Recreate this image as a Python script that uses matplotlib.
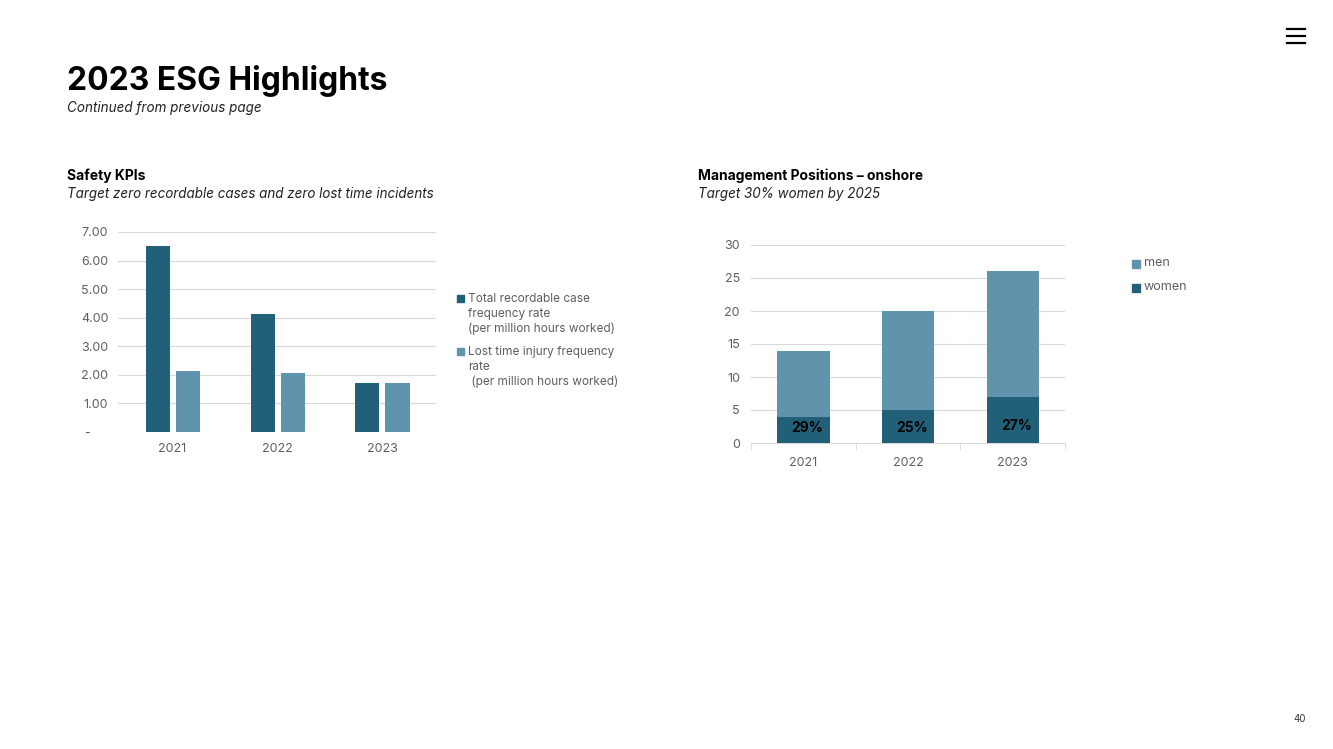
import matplotlib.pyplot as plt
from matplotlib.lines import Line2D
from matplotlib.patches import Rectangle

plt.rcParams['font.family'] = ['Inter', 'DejaVu Sans']

# ---- data ----
years = ['2021', '2022', '2023']
trcf = [6.52, 4.12, 1.73]          # Total recordable case frequency rate
ltif = [2.15, 2.05, 1.73]          # Lost time injury frequency rate
safety_ticks = [0, 1, 2, 3, 4, 5, 6, 7]
safety_tick_labels = ['-', '1.00', '2.00', '3.00', '4.00', '5.00', '6.00', '7.00']

women = [4, 5, 7]
men = [10, 15, 19]
mgmt_ticks = [0, 5, 10, 15, 20, 25, 30]

DARK = '#22607a'
LIGHT = '#6094ad'
GRID = '#d9d9d9'
TICK = '#5f5f5f'

W, H = 1333, 749
fig = plt.figure(figsize=(W / 100, H / 100), dpi=100)


def fx(px):
    return px / W


def fy(py):
    return 1 - py / H


# header
fig.text(fx(67), fy(90), '2023 ESG Highlights', fontsize=22.9, fontweight='bold', color='black')
fig.text(fx(67), fy(112), 'Continued from previous page', fontsize=9.7, style='italic', color='#222222')

fig.text(fx(67), fy(180), 'Safety KPIs', fontsize=10, fontweight='bold', color='black')
fig.text(fx(67), fy(198), 'Target zero recordable cases and zero lost time incidents', fontsize=9.65,
         style='italic', color='#222222')
fig.text(fx(698), fy(180), 'Management Positions \u2013 onshore', fontsize=10, fontweight='bold', color='black')
fig.text(fx(698), fy(198), 'Target 30% women by 2025', fontsize=9.65, style='italic', color='#222222')

# hamburger icon
for yy in (29, 36, 43):
    fig.add_artist(Line2D([fx(1287), fx(1305)], [fy(yy), fy(yy)], color='black', lw=1.6,
                          transform=fig.transFigure))
fig.text(fx(1306), fy(722), '40', fontsize=7, ha='right', color='#333333')

# ---- Safety KPIs chart ----
ax1 = fig.add_axes([fx(118), fy(432), fx(436 - 118), (432 - 232) / H])
x = list(range(len(years)))
off = 0.143
bw = 0.229
ax1.bar([i - off for i in x], trcf, width=bw, color=DARK, zorder=3)
ax1.bar([i + off for i in x], ltif, width=bw, color=LIGHT, zorder=3)
ax1.set_xlim(-0.52, 2.51)
ax1.set_ylim(0, 7)
ax1.set_yticks(safety_ticks)
ax1.set_yticklabels([l if l != '-' else '-     ' for l in safety_tick_labels])
ax1.set_xticks(x)
ax1.set_xticklabels(years)
ax1.grid(axis='y', color=GRID, lw=0.8, zorder=0)
ax1.set_axisbelow(True)
for s in ax1.spines.values():
    s.set_visible(False)
ax1.tick_params(axis='both', length=0, labelsize=9, labelcolor=TICK)
ax1.tick_params(axis='y', pad=7)
ax1.tick_params(axis='x', pad=8)

# legend 1
leg1 = [(299, DARK, ['Total recordable case', 'frequency rate', '(per million hours worked)']),
        (352, LIGHT, ['Lost time injury frequency', 'rate', ' (per million hours worked)'])]
for y0, c, lines in leg1:
    fig.add_artist(Rectangle((fx(457), fy(y0 + 3.5)), fx(7), 7 / H, color=c, transform=fig.transFigure))
    for k, t in enumerate(lines):
        fig.text(fx(468), fy(y0 + k * 15), t, fontsize=8.5, color=TICK, va='center')

# ---- Management chart ----
ax2 = fig.add_axes([fx(751), fy(443), fx(1065 - 751), (443 - 245) / H])
ax2.bar(x, women, width=0.5, color=DARK, zorder=3)
ax2.bar(x, men, bottom=women, width=0.5, color=LIGHT, zorder=3)
ax2.set_xlim(-0.5, 2.5)
ax2.set_ylim(0, 30)
ax2.set_yticks(mgmt_ticks)
ax2.set_xticks(x)
ax2.set_xticklabels(years)
ax2.set_xticks([-0.5, 0.5, 1.5, 2.5], minor=True)
ax2.grid(axis='y', color=GRID, lw=0.8, zorder=0)
ax2.set_axisbelow(True)
for k, s in ax2.spines.items():
    s.set_visible(k == 'bottom')
ax2.spines['bottom'].set_color(GRID)
ax2.tick_params(axis='both', which='major', length=0, labelsize=9, labelcolor=TICK)
ax2.tick_params(axis='x', which='minor', length=5, color=GRID, direction='out')
ax2.tick_params(axis='y', pad=8)
ax2.tick_params(axis='x', which='major', pad=10)
label_y = [2.3, 2.3, 2.6]
for i, (w, m) in enumerate(zip(women, men)):
    pct = round(100 * w / (w + m))
    ax2.text(i + 0.04, label_y[i], f'{pct}%', ha='center', va='center', fontsize=10,
             fontweight='bold', color='black', zorder=5)

# legend 2
for y0, c, t in [(264, LIGHT, 'men'), (288, DARK, 'women')]:
    fig.add_artist(Rectangle((fx(1132), fy(y0 + 4)), fx(8), 8 / H, color=c, transform=fig.transFigure))
    fig.text(fx(1144), fy(y0 - 1), t, fontsize=9, color=TICK, va='center')

fig.savefig('out.png', dpi=100, facecolor='white')
